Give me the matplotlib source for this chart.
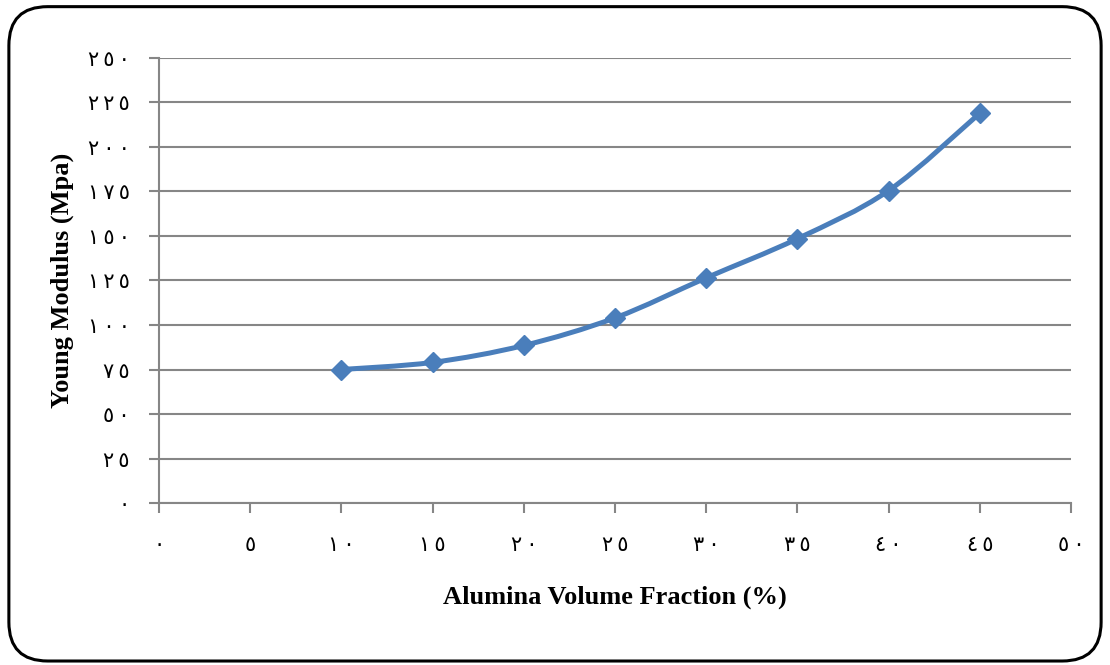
import numpy as np
import matplotlib
matplotlib.use('Agg')
import matplotlib.pyplot as plt
from matplotlib.path import Path
from matplotlib.patches import PathPatch, FancyBboxPatch

# data
fraction = [10, 15, 20, 25, 30, 35, 40, 45]
modulus = [75, 79, 88.5, 104, 126.5, 148.5, 175.5, 219]

x_ticks = [0, 5, 10, 15, 20, 25, 30, 35, 40, 45, 50]
y_ticks = [0, 25, 50, 75, 100, 125, 150, 175, 200, 225, 250]

AR = str.maketrans('0123456789', '٠١٢٣٤٥٦٧٨٩')


def ar(v):
    # arabic-indic digits, a little spread out like the original
    return '\u2009'.join(str(v).translate(AR))


def smooth_path(xs, ys, t=1/6):
    # excel style smoothed line as cubic bezier segments
    xs = np.asarray(xs, float)
    ys = np.asarray(ys, float)
    pts = np.column_stack([xs, ys])
    verts = [pts[0]]
    codes = [Path.MOVETO]
    n = len(pts)
    for i in range(n - 1):
        p0 = pts[i - 1] if i > 0 else pts[i]
        p1 = pts[i]
        p2 = pts[i + 1]
        p3 = pts[i + 2] if i + 2 < n else pts[i + 1]
        c1 = p1 + (p2 - p0) * t
        c2 = p2 - (p3 - p1) * t
        verts += [c1, c2, p2]
        codes += [Path.CURVE4] * 3
    return Path(verts, codes)


blue = '#4a7ebb'
grey = '#868686'

fig = plt.figure(figsize=(11.1, 6.65), dpi=100)
ax = fig.add_axes([0.1432, 0.2436, 0.8217, 0.6692])

ax.add_patch(PathPatch(smooth_path(fraction, modulus), facecolor='none',
                       edgecolor=blue, lw=3.6, capstyle='round', zorder=3))
ax.plot(fraction, modulus, linestyle='none', marker='D', markersize=10,
        color=blue, zorder=4)

ax.set_xlim(0, 50)
ax.set_ylim(0, 250)
ax.set_xticks(x_ticks)
ax.set_yticks(y_ticks)
ax.set_xticklabels([ar(v) for v in x_ticks], fontfamily='DejaVu Sans', fontsize=15)
ax.set_yticklabels([ar(v) for v in y_ticks], fontfamily='DejaVu Sans', fontsize=15)

ax.yaxis.grid(True, color=grey, lw=1.5)
ax.set_axisbelow(True)
for s in ['top', 'right']:
    ax.spines[s].set_visible(False)
for s in ['left', 'bottom']:
    ax.spines[s].set_color(grey)
    ax.spines[s].set_linewidth(1.5)
ax.tick_params(axis='y', direction='out', length=7, width=1.5, color=grey, pad=14)
ax.tick_params(axis='x', direction='out', length=7, width=1.5, color=grey, pad=16)

ax.set_xlabel('Alumina Volume Fraction (%)', fontfamily='Liberation Serif',
              fontweight='bold', fontsize=19, labelpad=22)
ax.set_ylabel('Young Modulus (Mpa)', fontfamily='Liberation Serif',
              fontweight='bold', fontsize=19, labelpad=10)

frame = FancyBboxPatch((0.008, 0.006), 0.984, 0.984, transform=fig.transFigure,
                       boxstyle='round,pad=0,rounding_size=0.035',
                       facecolor='none', edgecolor='black', lw=2.2,
                       mutation_aspect=1.67)
fig.patches.append(frame)

fig.savefig('out.png', dpi=100)
